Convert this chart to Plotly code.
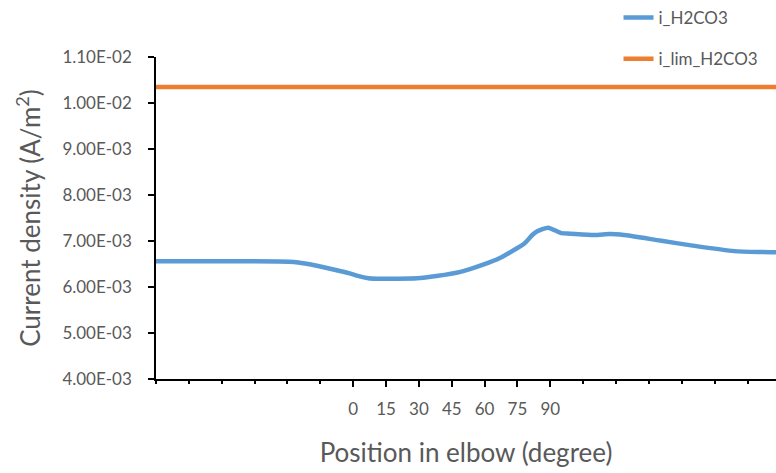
import plotly.graph_objects as go

# Data
position_deg = [-90, -60, -35, -27, -22, -16, -8, -2, 3, 7, 11, 20, 29, 38, 49, 59, 67, 74, 78, 82, 84, 89, 95, 99, 110, 117, 122, 140, 155, 174, 186, 193]
i_h2co3 = [6.56e-3, 6.56e-3, 6.555e-3, 6.545e-3, 6.51e-3, 6.455e-3, 6.37e-3, 6.30e-3, 6.23e-3, 6.19e-3, 6.18e-3, 6.18e-3, 6.19e-3, 6.24e-3, 6.33e-3, 6.48e-3, 6.63e-3, 6.82e-3, 6.94e-3, 7.14e-3, 7.21e-3, 7.29e-3, 7.17e-3, 7.16e-3, 7.13e-3, 7.15e-3, 7.14e-3, 7.01e-3, 6.90e-3, 6.78e-3, 6.76e-3, 6.755e-3]
lim_position_deg = [-90, 193]
i_lim_h2co3 = [1.035e-2, 1.035e-2]

y_tickvals = [4e-3, 5e-3, 6e-3, 7e-3, 8e-3, 9e-3, 1.0e-2, 1.1e-2]
y_ticktext = ["4.00E-03", "5.00E-03", "6.00E-03", "7.00E-03", "8.00E-03", "9.00E-03", "1.00E-02", "1.10E-02"]
x_tickvals = [0, 15, 30, 45, 60, 75, 90]
x_ticktext = ["0", "15", "30", "45", "60", "75", "90"]

FONT = "Lato"
GRAY = "#595959"

fig = go.Figure()
fig.add_trace(go.Scatter(x=position_deg, y=i_h2co3, mode="lines", name="i_H2CO3",
                         line=dict(color="#5B9BD5", width=4.5, shape="spline", smoothing=0.6),
                         legendgroup="a"))
fig.add_trace(go.Scatter(x=lim_position_deg, y=i_lim_h2co3, mode="lines", name="i_lim_H2CO3",
                         line=dict(color="#ED7D31", width=4.5), legendgroup="b"))

fig.update_layout(
    width=776, height=473,
    margin=dict(l=156, r=0, t=54, b=94),
    paper_bgcolor="white", plot_bgcolor="white",
    font=dict(family=FONT, color=GRAY),
    showlegend=True,
    legend=dict(x=0.746, y=1.178, xanchor="left", yanchor="top",
                bgcolor="rgba(0,0,0,0)", font=dict(size=17, color=GRAY),
                tracegroupgap=16, itemwidth=30),
    xaxis=dict(range=[-90, 193], showgrid=False, zeroline=False,
               showline=True, linecolor="black", linewidth=1.5,
               ticks="outside", ticklen=6, tickwidth=1.5, tickcolor="black",
               tickvals=x_tickvals, ticktext=x_ticktext, ticklabelstandoff=8,
               tickfont=dict(size=17, color=GRAY),
               minor=dict(dtick=15, tick0=0, ticks="outside", ticklen=3, tickwidth=1.5, tickcolor="black"),
               title=dict(text="Position in elbow (degree)", font=dict(size=26, color=GRAY), standoff=26)),
    yaxis=dict(range=[4e-3, 1.1e-2], showgrid=False, zeroline=False,
               showline=True, linecolor="black", linewidth=1.5,
               ticks="outside", ticklen=6, tickwidth=1.5, tickcolor="black",
               tickvals=y_tickvals, ticktext=y_ticktext, ticklabelstandoff=13,
               tickfont=dict(size=17, color=GRAY),
               title=dict(text="Current density (A/m<sup>2</sup>)", font=dict(size=26, color=GRAY), standoff=14)),
)

fig.write_html("out.html")
